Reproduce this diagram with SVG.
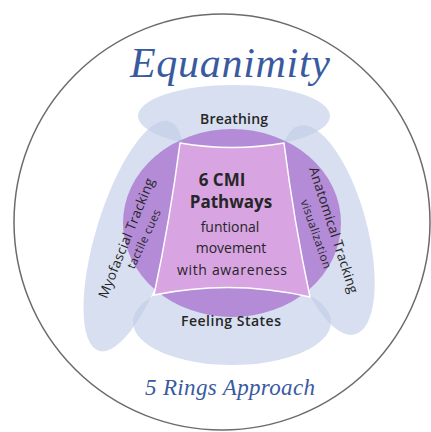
<svg xmlns="http://www.w3.org/2000/svg" width="431" height="432" viewBox="0 0 431 432">
  <style>
    .ring { fill: #C2CEE8; fill-opacity: 0.65; }
    .lbl { font-family: "Open Sans", "Liberation Sans", sans-serif; fill: #262626; text-anchor: middle; }
    .title { font-family: "Liberation Serif", "DejaVu Serif", serif; font-style: italic; fill: #3A5AA0; text-anchor: middle; }
  </style>
  <defs>
    <clipPath id="cpPurple"><ellipse cx="232" cy="223" rx="109" ry="94"/></clipPath>
    <clipPath id="cpL"><ellipse transform="translate(134,236) rotate(17)" cx="0" cy="0" rx="38" ry="120"/></clipPath>
    <clipPath id="cpR"><ellipse transform="translate(327,230) rotate(-15)" cx="0" cy="0" rx="40" ry="108"/></clipPath>
  </defs>
  <rect width="431" height="432" fill="#ffffff"/>

  <g id="outer-ring">
    <circle cx="222" cy="222" r="208" fill="none" stroke="#6b6b6b" stroke-width="1.5"/>
    <text class="title" x="230" y="77" font-size="42" textLength="200" lengthAdjust="spacing">Equanimity</text>
    <text class="title" x="230" y="395" font-size="23" textLength="170" lengthAdjust="spacing">5 Rings Approach</text>
  </g>

  <g id="breathing">
    <ellipse class="ring" cx="234" cy="116" rx="96" ry="31"/>
  </g>
  <g id="myofascial">
    <ellipse class="ring" transform="translate(134,236) rotate(17)" cx="0" cy="0" rx="38" ry="120"/>
  </g>
  <g id="anatomical">
    <ellipse class="ring" transform="translate(327,230) rotate(-15)" cx="0" cy="0" rx="40" ry="108"/>
  </g>
  <g id="feeling">
    <ellipse class="ring" cx="232" cy="322" rx="99" ry="43"/>
  </g>

  <g id="pathways">
    <ellipse cx="232" cy="223" rx="109" ry="94" fill="#B48BD6"/>
    <g clip-path="url(#cpPurple)">
      <g clip-path="url(#cpL)"><ellipse cx="234" cy="116" rx="96" ry="31" fill="#A9A3DA"/></g>
      <g clip-path="url(#cpR)"><ellipse cx="234" cy="116" rx="96" ry="31" fill="#A9A3DA"/></g>
    </g>
    <path d="M180,143 Q232,152 284,143 Q294,222 310,297 Q232,279 154,295 Q170,220 180,143 Z" fill="#D8A4E2" stroke="#ffffff" stroke-width="1.5" stroke-linejoin="round"/>
  </g>

  <g id="labels">
    <text class="lbl" x="234" y="124" font-size="14" font-weight="600" textLength="68" lengthAdjust="spacing">Breathing</text>
    <text class="lbl" x="231" y="326" font-size="14" font-weight="600" textLength="100" lengthAdjust="spacing">Feeling States</text>
    <text class="lbl" x="222" y="186" font-size="17" font-weight="700">6 CMI</text>
    <text class="lbl" x="231" y="208" font-size="17" font-weight="700">Pathways</text>
    <text class="lbl" x="230" y="232" font-size="14">funtional</text>
    <text class="lbl" x="231" y="253" font-size="14">movement</text>
    <text class="lbl" x="232" y="275" font-size="14" textLength="110" lengthAdjust="spacing">with awareness</text>
    <g transform="translate(126,238) rotate(-68)">
      <text class="lbl" x="0" y="5" font-size="13.5" textLength="128" lengthAdjust="spacing">Myofascial Tracking</text>
    </g>
    <g transform="translate(144,239) rotate(-65)">
      <text class="lbl" x="0" y="4" font-size="11.5" textLength="64" lengthAdjust="spacing">tactile cues</text>
    </g>
    <g transform="translate(334,230) rotate(72)">
      <text class="lbl" x="0" y="5" font-size="13.5" textLength="132" lengthAdjust="spacing">Anatomical Tracking</text>
    </g>
    <g transform="translate(316,234) rotate(71)">
      <text class="lbl" x="0" y="4" font-size="11.5" textLength="72" lengthAdjust="spacing">visualization</text>
    </g>
  </g>
</svg>
